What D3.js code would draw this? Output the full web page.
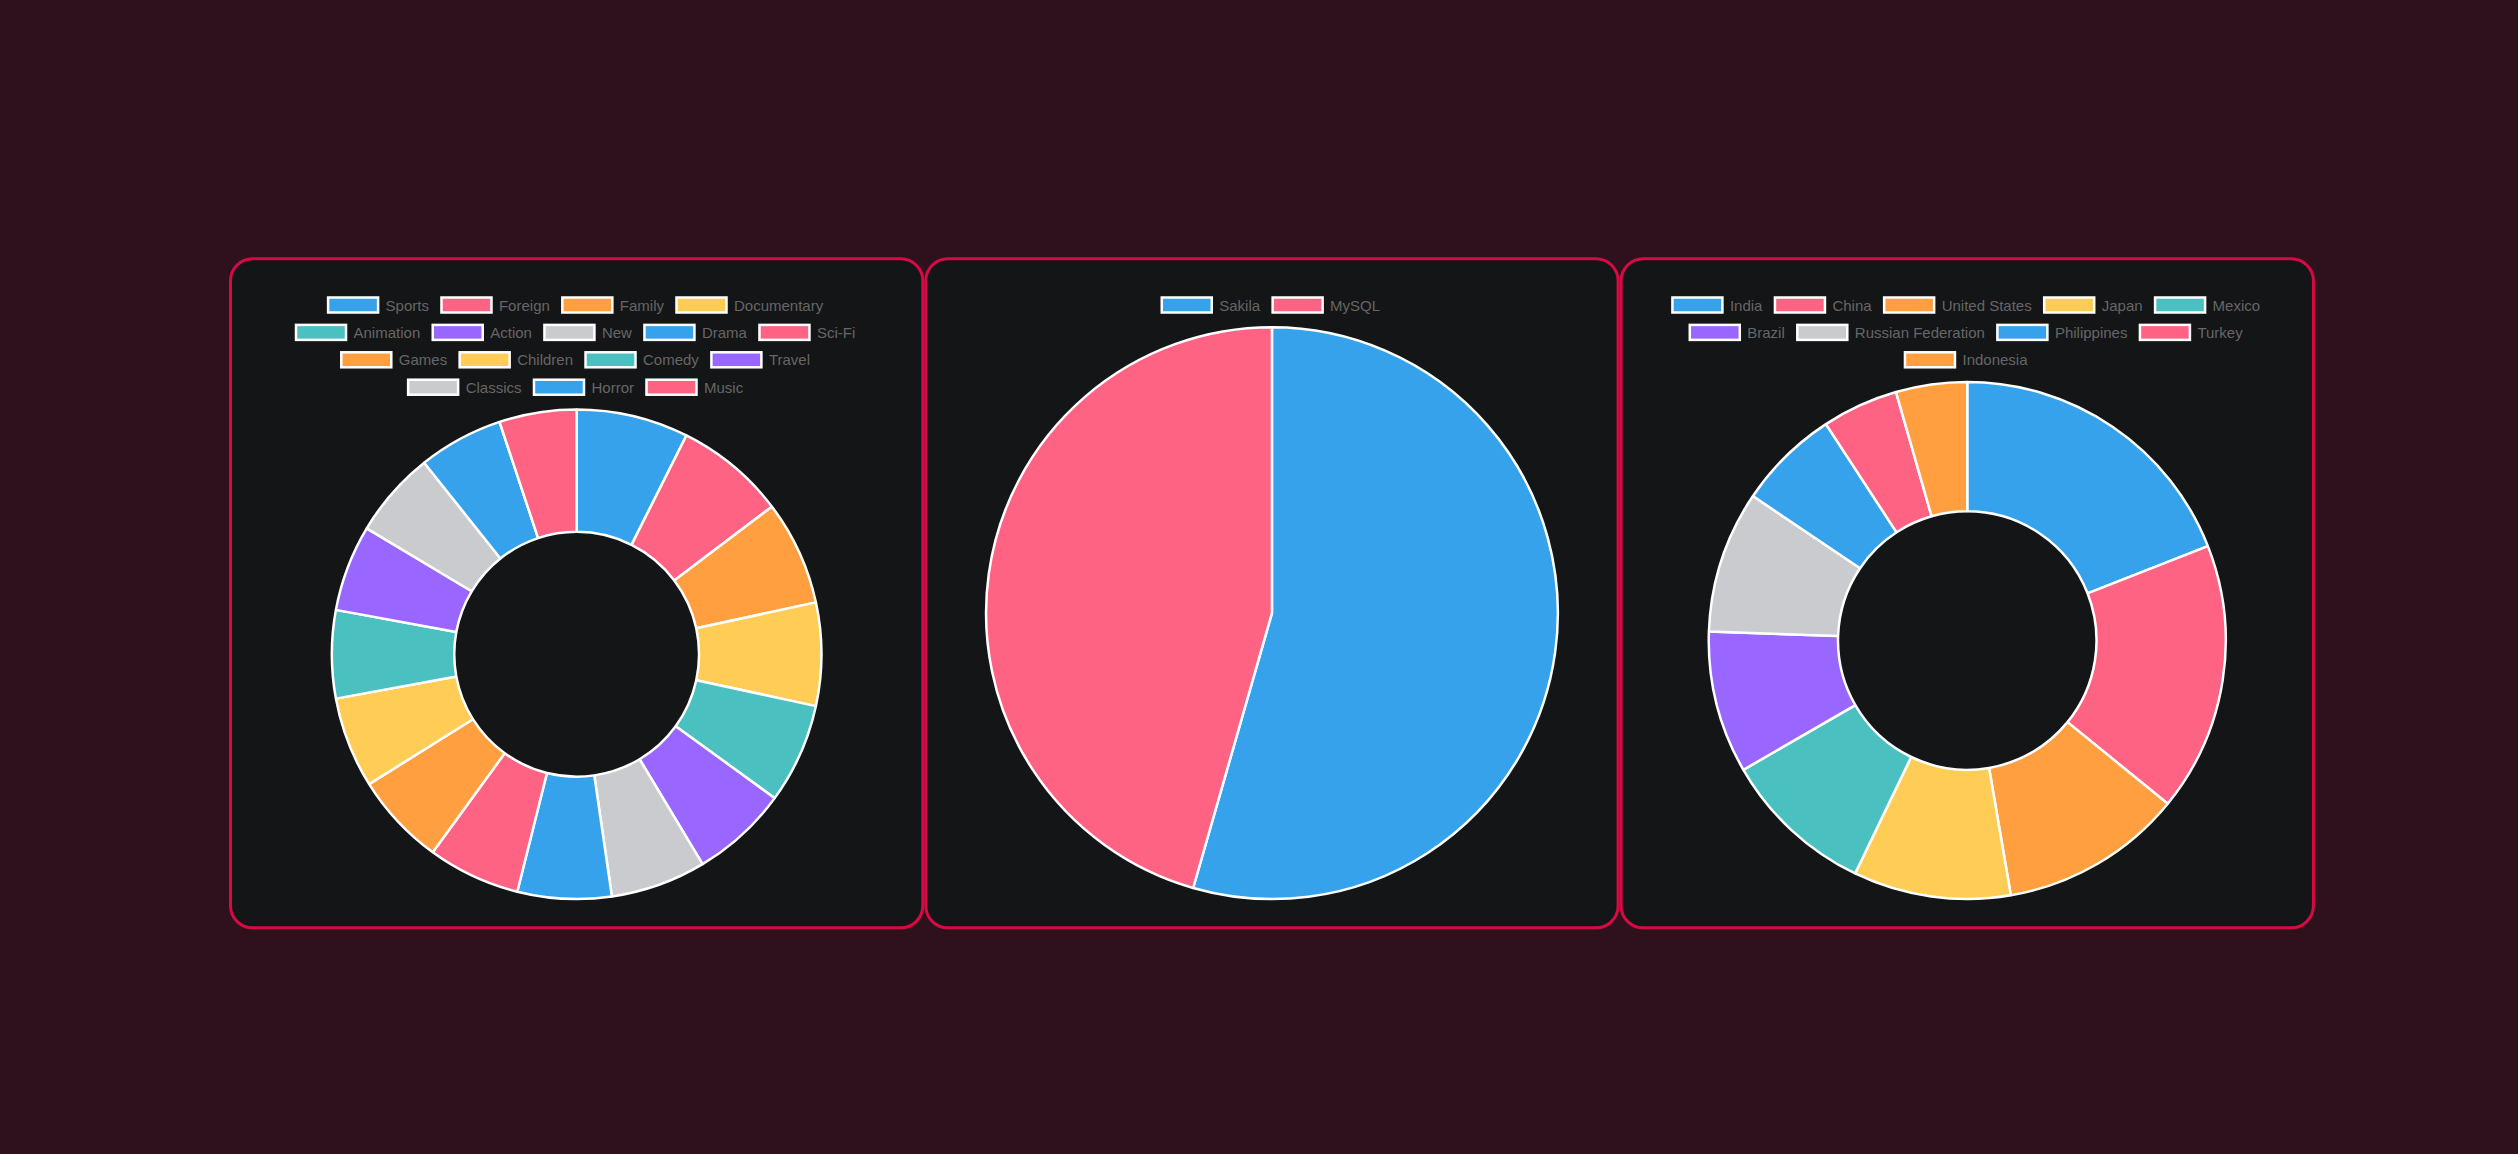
<!DOCTYPE html>
<html>
<head>
<meta charset="utf-8">
<script src="https://cdn.jsdelivr.net/npm/d3@7"></script>
<style>
  html, body { margin: 0; padding: 0; background: #2e111d; overflow: hidden; }
  svg { display: block; }
</style>
</head>
<body>
<svg id="chart" width="2518" height="1154"></svg>
<script>
// ---- data ----
const palette = ["rgb(54,162,235)", "rgb(255,99,132)", "rgb(255,159,64)", "rgb(255,205,86)",
                 "rgb(75,192,192)", "rgb(153,102,255)", "rgb(201,203,207)"];

const categoryLabels = ["Sports", "Foreign", "Family", "Documentary", "Animation", "Action", "New", "Drama",
                        "Sci-Fi", "Games", "Children", "Comedy", "Travel", "Classics", "Horror", "Music"];
const categoryValues = [74, 73, 69, 68, 66, 64, 63, 62, 61, 61, 60, 58, 57, 57, 56, 51];

const sourceLabels = ["Sakila", "MySQL"];
const sourceValues = [49, 41];

const countryLabels = ["India", "China", "United States", "Japan", "Mexico", "Brazil",
                       "Russian Federation", "Philippines", "Turkey", "Indonesia"];
const countryValues = [60, 53, 36, 31, 30, 28, 28, 20, 15, 14];

// ---- layout ----
const svg = d3.select("#chart");
const panelX0 = 229, panelW = 695.3, panelY0 = 257.3, panelH = 672;
const charts = [
  { labels: categoryLabels, values: categoryValues, cutout: 0.5 },
  { labels: sourceLabels, values: sourceValues, cutout: 0 },
  { labels: countryLabels, values: countryValues, cutout: 0.5 }
];

const fontSize = 15, boxW = 50, boxH = 15, pad = 12.5, rowStep = 27.4;
const firstBoxTop = 297.5;
const maxLegendWidth = 616;
const areaBottom = 900.3;

charts.forEach((c, ci) => {
  const px = panelX0 + ci * panelW;
  const cx = px + panelW / 2;
  const g = svg.append("g");

  g.append("rect")
    .attr("x", px + 1.5).attr("y", panelY0 + 1.5)
    .attr("width", panelW - 3).attr("height", panelH - 3)
    .attr("rx", 22).attr("ry", 22)
    .attr("fill", "#141517")
    .attr("stroke", "#d70a45")
    .attr("stroke-width", 3);

  // legend: measure text widths
  const meas = g.append("text")
    .attr("font-family", "'Liberation Sans', Arial, Helvetica, sans-serif")
    .attr("font-size", fontSize);
  const items = c.labels.map((lab, i) => {
    meas.text(lab);
    const tw = meas.node().getComputedTextLength();
    return { label: lab, color: palette[i % palette.length], tw: tw, w: boxW + fontSize / 2 + tw };
  });
  meas.remove();

  const rows = [];
  let lw = 0;
  items.forEach((it, i) => {
    if (i === 0 || lw + it.w + 2 * pad > maxLegendWidth) {
      rows.push({ items: [], width: 0 });
      lw = 0;
    }
    const row = rows[rows.length - 1];
    row.items.push(it);
    lw += it.w + pad;
    row.width = lw;
  });

  rows.forEach((row, ri) => {
    const top = firstBoxTop + ri * rowStep;
    let x = cx - 1 - (row.width - pad) / 2;
    row.items.forEach(it => {
      g.append("rect")
        .attr("x", x).attr("y", top)
        .attr("width", boxW).attr("height", boxH)
        .attr("fill", it.color)
        .attr("stroke", "#fff")
        .attr("stroke-width", 2.5);
      g.append("text")
        .attr("x", x + boxW + fontSize / 2)
        .attr("y", top + boxH / 2)
        .attr("dominant-baseline", "central")
        .attr("font-family", "'Liberation Sans', Arial, Helvetica, sans-serif")
        .attr("font-size", fontSize)
        .attr("fill", "#666")
        .text(it.label);
      x += it.w + pad;
    });
  });

  // pie / doughnut
  const areaTop = 326 + (rows.length - 1) * rowStep;
  const cy = (areaTop + areaBottom) / 2;
  const R = (areaBottom - areaTop) / 2 - 1.25;
  const pie = d3.pie().sort(null).value(d => d)(c.values);
  const arc = d3.arc().outerRadius(R).innerRadius(R * c.cutout);
  const pg = g.append("g").attr("transform", `translate(${cx},${cy})`);
  pie.forEach((p, i) => {
    pg.append("path")
      .attr("d", arc(p))
      .attr("fill", palette[i % palette.length])
      .attr("stroke", "#fff")
      .attr("stroke-width", 2.5)
      .attr("stroke-linejoin", "bevel");
  });
});
</script>
</body>
</html>
